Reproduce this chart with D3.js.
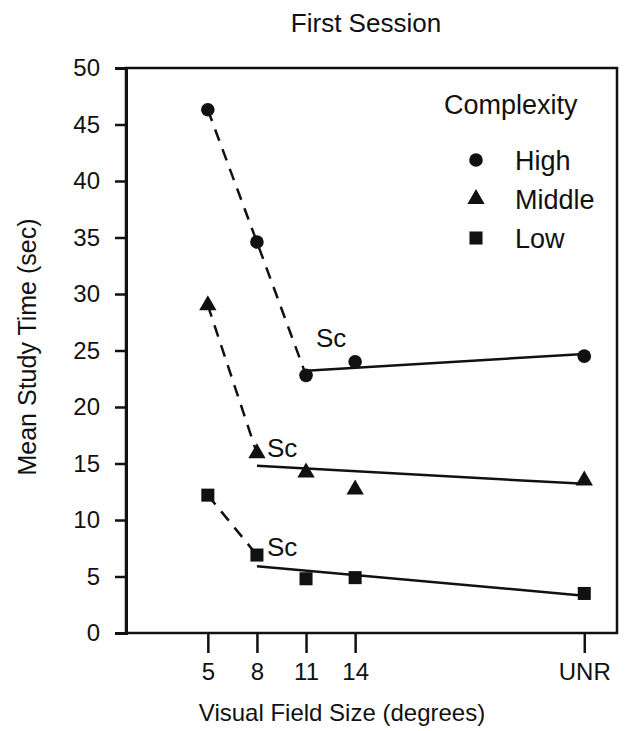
<!DOCTYPE html>
<html>
<head>
<meta charset="utf-8">
<script src="https://cdn.jsdelivr.net/npm/d3@7"></script>
<style>
  body { margin: 0; background: #fff; }
  text { font-family: "Liberation Sans", Arial, Helvetica, sans-serif; fill: #111; }
</style>
</head>
<body>
<script>
// field sizes (UNR placed at 28 on the degree axis)
var fieldSizes = [5, 8, 11, 14, 28];
var fieldLabels = ["5", "8", "11", "14", "UNR"];
var yTicks = [0, 5, 10, 15, 20, 25, 30, 35, 40, 45, 50];

// mean study time (sec) per complexity
var high   = [46.3, 34.6, 22.8, 24.0, 24.5];
var middle = [29.0, 15.9, 14.2, 12.7, 13.5];
var low    = [12.2, 6.9, 4.8, 4.9, 3.5];

// dashed segments run through the first points, solid fits start at Sc
var dashCount = [3, 2, 2];
var fitStart  = [[11, 23.2], [8, 14.8], [8, 5.9]];
var fitEnd    = [[28, 24.7], [28, 13.2], [28, 3.3]];
var scPos     = [[11, 25.3], [8, 15.6], [8, 6.8]];

var seriesNames = ["High", "Middle", "Low"];
var seriesVals = [high, middle, low];
var shapes = [d3.symbolCircle, d3.symbolTriangle, d3.symbolSquare];
var shapeSize = [145, 130, 170];

var W = 627, H = 731;
var svg = d3.select("body").append("svg").attr("width", W).attr("height", H);

var x = d3.scaleLinear().domain([0, 30]).range([126, 617]);
var y = d3.scaleLinear().domain([0, 50]).range([633, 68]);

// frame
svg.append("rect")
  .attr("x", x(0)).attr("y", y(50))
  .attr("width", x(30) - x(0)).attr("height", y(0) - y(50))
  .attr("fill", "none").attr("stroke", "#111").attr("stroke-width", 2.5);

var yAxis = svg.append("g")
  .attr("transform", "translate(" + x(0) + ",0)")
  .call(d3.axisLeft(y).tickValues(yTicks).tickSize(11).tickPadding(15));
yAxis.select(".domain").attr("stroke-width", 3).attr("stroke", "#111");
yAxis.selectAll(".tick line").attr("stroke-width", 2.5).attr("stroke", "#111");
yAxis.selectAll("text").style("font-size", "24px")
  .style("font-family", "'Liberation Sans', Arial, sans-serif").attr("fill", "#111");

var xAxis = svg.append("g")
  .attr("transform", "translate(0," + y(0) + ")")
  .call(d3.axisBottom(x).tickValues(fieldSizes)
    .tickFormat(function(d, i) { return fieldLabels[i]; })
    .tickSize(20).tickPadding(10));
xAxis.select(".domain").remove();
xAxis.selectAll(".tick line").attr("stroke-width", 2.5).attr("stroke", "#111");
xAxis.selectAll("text").style("font-size", "24px")
  .style("font-family", "'Liberation Sans', Arial, sans-serif").attr("fill", "#111");

// titles
svg.append("text").attr("x", 366).attr("y", 32)
  .attr("text-anchor", "middle").style("font-size", "26px").text("First Session");
svg.append("text").attr("x", 342).attr("y", 721)
  .attr("text-anchor", "middle").style("font-size", "24px").text("Visual Field Size (degrees)");
svg.append("text")
  .attr("transform", "translate(36,347) rotate(-90)")
  .attr("text-anchor", "middle").style("font-size", "25px").text("Mean Study Time (sec)");

var line = d3.line().x(function(d) { return x(d[0]); }).y(function(d) { return y(d[1]); });

seriesVals.forEach(function(vals, s) {
  var pts = fieldSizes.map(function(f, i) { return [f, vals[i]]; });
  svg.append("path")
    .attr("d", line(pts.slice(0, dashCount[s])))
    .attr("fill", "none").attr("stroke", "#111")
    .attr("stroke-width", 2.5).attr("stroke-dasharray", "12,9");
  svg.append("path")
    .attr("d", line([fitStart[s], fitEnd[s]]))
    .attr("fill", "none").attr("stroke", "#111").attr("stroke-width", 2.5);
  svg.selectAll(".pt" + s).data(pts).enter().append("path")
    .attr("transform", function(d) { return "translate(" + x(d[0]) + "," + y(d[1]) + ")"; })
    .attr("d", d3.symbol().type(shapes[s]).size(shapeSize[s]))
    .attr("fill", "#111");
  svg.append("text")
    .attr("x", x(scPos[s][0]) + 10).attr("y", y(scPos[s][1]))
    .style("font-size", "26px").text("Sc");
});

// legend
svg.append("text").attr("x", 444).attr("y", 114).style("font-size", "27px").text("Complexity");
seriesNames.forEach(function(n, s) {
  var ly = 160 + s * 39;
  svg.append("path")
    .attr("transform", "translate(476," + ly + ")")
    .attr("d", d3.symbol().type(shapes[s]).size(shapeSize[s]))
    .attr("fill", "#111");
  svg.append("text").attr("x", 515).attr("y", ly + 10)
    .style("font-size", "27px").text(n);
});
</script>
</body>
</html>
